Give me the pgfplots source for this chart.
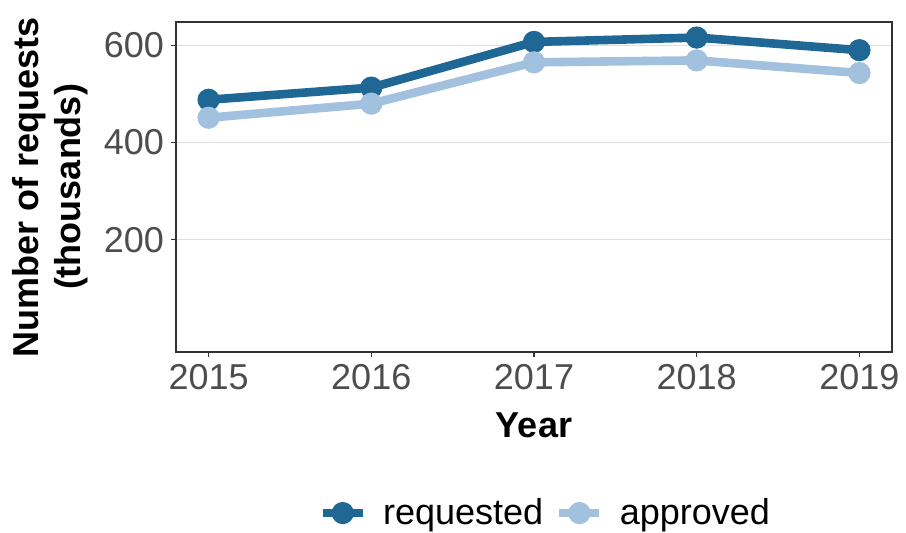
\documentclass[border=0pt]{standalone}
\usepackage{fontspec}
\setmainfont{Liberation Sans}
\usepackage{pgfplots}
\pgfplotsset{compat=1.18}
\definecolor{reqblue}{HTML}{1F6896}
\definecolor{appblue}{HTML}{A1C1DF}
\definecolor{ticktext}{HTML}{4D4D4D}
\definecolor{framec}{HTML}{333333}
\definecolor{gridc}{HTML}{DEDEDE}

\begin{document}
\begin{tikzpicture}
\useasboundingbox (-88pt,-90pt) rectangle (365pt,176pt);
\begin{axis}[
    at={(0,0)}, anchor=south west,
    scale only axis, width=358pt, height=165pt,
    xmin=2014.8, xmax=2019.2, ymin=-31, ymax=648,
    xtick={2015,2016,2017,2018,2019}, ytick={200,400,600},
    x tick label style={/pgf/number format/.cd,1000 sep={}},
    /pgf/number format/assume math mode=true,
    ticklabel style={font=\fontsize{18}{20}\selectfont, text=ticktext},
    tick align=outside, major tick length=2.5pt,
    tick style={framec, line width=0.6pt},
    xtick pos=bottom, ytick pos=left,
    axis line style={framec, line width=0.6pt},
    ymajorgrids, major grid style={gridc, line width=0.5pt},
    xlabel={Year}, ylabel={Number of requests\\(thousands)},
    label style={font=\bfseries\fontsize{18}{21}\selectfont},
    ylabel style={align=center, at={(axis description cs:-0.113,0.5)}, anchor=south},
    xlabel style={at={(axis description cs:0.5,-0.2576)}, anchor=base},
    legend style={at={(axis description cs:0.517,-0.488)}, anchor=center, draw=none,
        legend columns=2, font=\fontsize{18}{20}\selectfont,
        /tikz/every odd column/.append style={column sep=6pt},
        /tikz/every even column/.append style={column sep=4pt}},
    legend image code/.code={\draw[#1, mark repeat=2, mark phase=2] plot coordinates {(0pt,0pt)(10pt,0pt)(20pt,0pt)};},
]
\addplot[reqblue, line width=4.3pt, mark=*, mark size=5.3pt, mark options={line width=0.5pt}]
    coordinates {(2015,488)(2016,513)(2017,607)(2018,616)(2019,590)};
\addplot[appblue, line width=4.3pt, mark=*, mark size=5.3pt, mark options={line width=0.5pt}]
    coordinates {(2015,451)(2016,480)(2017,565)(2018,569)(2019,543)};
\legend{requested, approved}
\end{axis}
\end{tikzpicture}
\end{document}
